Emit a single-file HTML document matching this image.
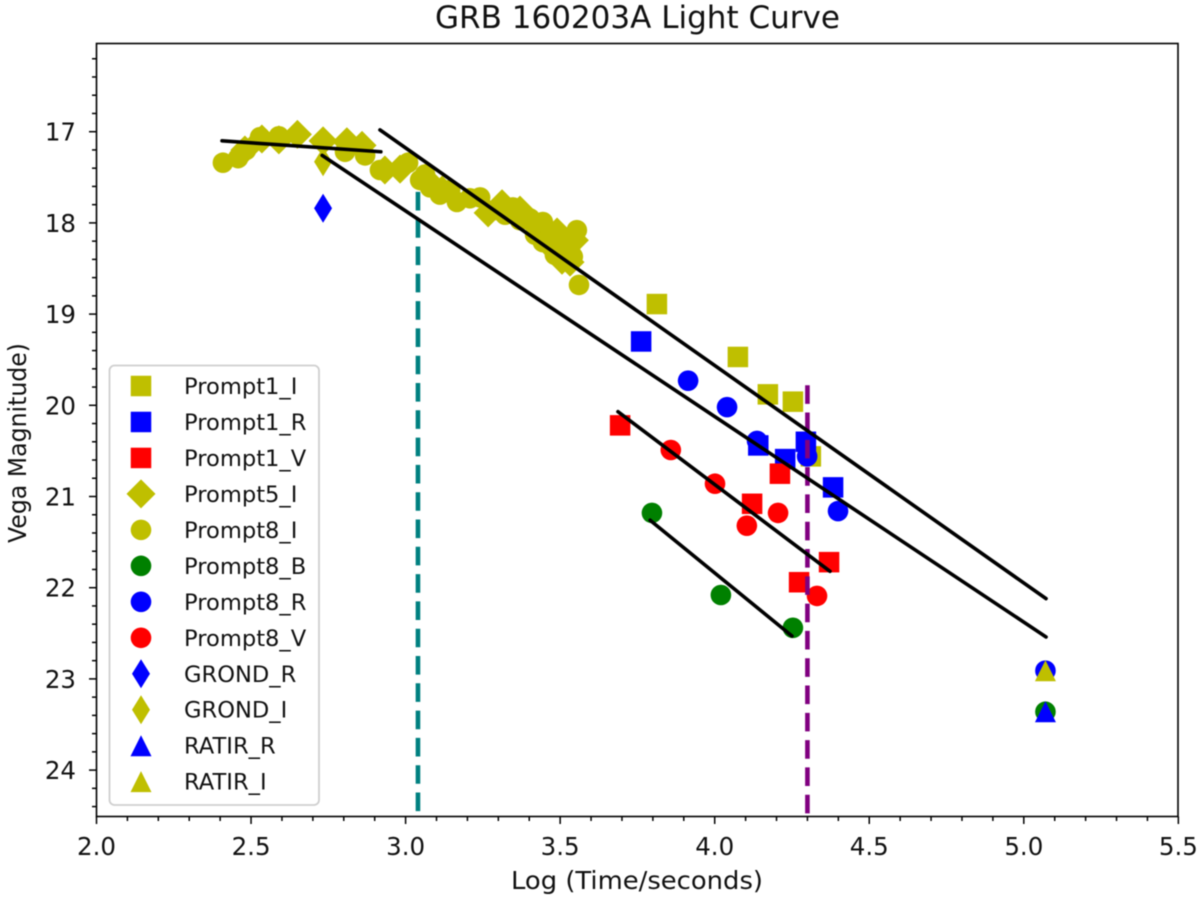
<!DOCTYPE html>
<html>
<head>
<meta charset="utf-8">
<title>GRB 160203A Light Curve</title>
<style>
html,body{margin:0;padding:0;background:#fff;}
svg{display:block;filter:blur(0.45px);}
text{font-family:"DejaVu Sans","Liberation Sans",sans-serif;fill:#111;}
</style>
</head>
<body>
<svg id="chart" xmlns="http://www.w3.org/2000/svg" width="1200" height="902" viewBox="0 0 1200 902"></svg>
<script>
var xTickLabels = ["2.0","2.5","3.0","3.5","4.0","4.5","5.0","5.5"];
var yTickLabels = ["17","18","19","20","21","22","23","24"];

var prompt1IX = [3.813,4.075,4.172,4.253,4.311];
var prompt1IY = [18.89,19.47,19.88,19.96,20.56];
var prompt1RX = [3.762,4.141,4.228,4.295,4.383];
var prompt1RY = [19.30,20.44,20.59,20.40,20.90];
var prompt1VX = [3.694,4.121,4.211,4.273,4.370];
var prompt1VY = [20.22,21.08,20.75,21.94,21.72];
var prompt5IX = [2.480,2.535,2.590,2.650,2.733,2.810,2.859,2.933,2.982,3.063,3.118,3.267,3.312,3.370,3.419,3.474,3.490,3.506,3.532,3.546];
var prompt5IY = [17.20,17.08,17.09,17.03,17.10,17.11,17.15,17.42,17.41,17.51,17.64,17.89,17.79,17.86,18.02,18.27,18.10,18.41,18.43,18.19];
var prompt8IX = [2.409,2.458,2.484,2.529,2.590,2.804,2.869,2.917,3.008,3.047,3.063,3.079,3.111,3.144,3.166,3.208,3.241,3.296,3.322,3.347,3.370,3.402,3.419,3.444,3.444,3.483,3.483,3.532,3.541,3.554,3.561];
var prompt8IY = [17.34,17.29,17.20,17.06,17.05,17.22,17.26,17.42,17.34,17.53,17.47,17.61,17.69,17.64,17.77,17.73,17.72,17.86,17.91,17.83,17.97,17.95,18.13,17.99,18.21,18.19,18.35,18.30,18.37,18.08,18.68];
var prompt8BX = [3.797,4.020,4.253,5.070];
var prompt8BY = [21.18,22.08,22.44,23.36];
var prompt8RX = [3.914,4.040,4.137,4.299,4.399,5.070];
var prompt8RY = [19.73,20.02,20.39,20.56,21.16,22.91];
var prompt8VX = [3.858,4.001,4.104,4.205,4.331];
var prompt8VY = [20.49,20.86,21.32,21.18,22.09];
var grondRX = [2.733];
var grondRY = [17.84];
var grondIX = [2.733];
var grondIY = [17.33];
var ratirRX = [5.070];
var ratirRY = [23.36];
var ratirIX = [5.070];
var ratirIY = [22.91];

var fit1X = [2.406,2.920];
var fit1Y = [17.10,17.22];
var fit2X = [2.917,5.072];
var fit2Y = [16.98,22.12];
var fit3X = [2.730,5.072];
var fit3Y = [17.26,22.54];
var fit4X = [3.687,4.373];
var fit4Y = [20.07,21.82];
var fit5X = [3.791,4.250];
var fit5Y = [21.26,22.53];

var tealLineX = [3.04,3.04];
var tealLineY = [17.66,24.51];
var purpleLineX = [4.3,4.3];
var purpleLineY = [19.78,24.51];

var legendLabels = ["Prompt1_I","Prompt1_R","Prompt1_V","Prompt5_I","Prompt8_I","Prompt8_B","Prompt8_R","Prompt8_V","GROND_R","GROND_I","RATIR_R","RATIR_I"];

var NS = "http://www.w3.org/2000/svg";
var svg = document.getElementById("chart");
var OLIVE = "#bfbf00", BLUE = "#0000ff", RED = "#ff0000", GREEN = "#008000";

function xScale(v){ return 96.5 + (v - 2) * 309.1; }
function yScale(v){ return 131.7 + (v - 17) * 91.2; }

function make(tag, attrs, parent){
  var el = document.createElementNS(NS, tag);
  for (var k in attrs) el.setAttribute(k, attrs[k]);
  (parent || svg).appendChild(el);
  return el;
}
function marker(shape, px, py, color, parent){
  var el;
  if (shape === "square") {
    el = make("rect", {x:px-10.25, y:py-10.25, width:20.5, height:20.5, fill:color}, parent);
  } else if (shape === "circle") {
    el = make("circle", {cx:px, cy:py, r:10.3, fill:color}, parent);
  } else if (shape === "diamond") {
    el = make("polygon", {points:(px-14.5)+","+py+" "+px+","+(py-14.5)+" "+(px+14.5)+","+py+" "+px+","+(py+14.5), fill:color}, parent);
  } else if (shape === "thin") {
    el = make("polygon", {points:(px-9)+","+py+" "+px+","+(py-14.5)+" "+(px+9)+","+py+" "+px+","+(py+14.5), fill:color}, parent);
  } else {
    el = make("polygon", {points:(px-10.5)+","+(py+10.5)+" "+px+","+(py-10.5)+" "+(px+10.5)+","+(py+10.5), fill:color}, parent);
  }
  return el;
}

var plotBg = make("rect", {x:96.5, y:43.5, width:1081.5, height:773, fill:"#fff"});



var seriesList = [
  ["prompt1-i","square",OLIVE,prompt1IX,prompt1IY],
  ["prompt1-r","square",BLUE,prompt1RX,prompt1RY],
  ["prompt1-v","square",RED,prompt1VX,prompt1VY],
  ["prompt5-i","diamond",OLIVE,prompt5IX,prompt5IY],
  ["prompt8-i","circle",OLIVE,prompt8IX,prompt8IY],
  ["prompt8-b","circle",GREEN,prompt8BX,prompt8BY],
  ["prompt8-r","circle",BLUE,prompt8RX,prompt8RY],
  ["prompt8-v","circle",RED,prompt8VX,prompt8VY],
  ["grond-r","thin",BLUE,grondRX,grondRY],
  ["grond-i","thin",OLIVE,grondIX,grondIY],
  ["ratir-r","triangle",BLUE,ratirRX,ratirRY],
  ["ratir-i","triangle",OLIVE,ratirIX,ratirIY]
];
seriesList.forEach(function(s){
  var g = make("g", {});
  
  
  for (var i = 0; i < s[3].length; i++) {
    var m = marker(s[1], xScale(s[3][i]), yScale(s[4][i]), s[2], g);
    
    
  }
});

var dashList = [
  ["teal-dashed-line", tealLineX, tealLineY, "#008080"],
  ["purple-dashed-line", purpleLineX, purpleLineY, "#800080"]
];
dashList.forEach(function(d){
  var l = make("line", {x1:xScale(d[1][0]), y1:yScale(d[2][0]), x2:xScale(d[1][1]), y2:yScale(d[2][1]), stroke:d[3], "stroke-width":4.6, "stroke-dasharray":"18.6 8.7"});
  
  
});

var fitList = [
  ["fit-line-plateau", fit1X, fit1Y],
  ["fit-line-i-band", fit2X, fit2Y],
  ["fit-line-r-band", fit3X, fit3Y],
  ["fit-line-v-band", fit4X, fit4Y],
  ["fit-line-b-band", fit5X, fit5Y]
];
fitList.forEach(function(f){
  var l = make("line", {x1:xScale(f[1][0]), y1:yScale(f[2][0]), x2:xScale(f[1][1]), y2:yScale(f[2][1]), stroke:"#000", "stroke-width":3.6, "stroke-linecap":"round"});
  
  
});

var axisGroup = make("g", {stroke:"#000", "stroke-width":1.5});


var frame = make("rect", {x:96.5, y:43.5, width:1081.5, height:773, fill:"none", "stroke-width":1.6}, axisGroup);



for (var xm = 0; xm <= 35; xm++) {
  var xv = 2 + xm / 10;
  var xMajor = xm % 5 === 0;
  var xt = make("line", {x1:xScale(xv), x2:xScale(xv), y1:816.5, y2:xMajor ? 824 : 821}, axisGroup);
  
  
}
for (var ym = 1; ym <= 42; ym++) {
  var yv = 16 + ym / 5;
  if (yScale(yv) > 816.5) break;
  var yMajor = ym % 5 === 0;
  var yt = make("line", {x1:96.5, x2:yMajor ? 89 : 92, y1:yScale(yv), y2:yScale(yv)}, axisGroup);
  
  
}

xTickLabels.forEach(function(t){
  var e = make("text", {x:xScale(parseFloat(t)), y:855, "text-anchor":"middle", "font-size":24.5});
  e.textContent = t;
  
  
});
yTickLabels.forEach(function(t){
  var e = make("text", {x:76, y:yScale(parseFloat(t)) + 9, "text-anchor":"end", "font-size":24.5});
  e.textContent = t;
  
  
});

var title = make("text", {x:637.5, y:28, "text-anchor":"middle", "font-size":31, textLength:405, lengthAdjust:"spacingAndGlyphs"});
title.textContent = "GRB 160203A Light Curve";



var xTitle = make("text", {x:637, y:889, "text-anchor":"middle", "font-size":24.5, textLength:252, lengthAdjust:"spacingAndGlyphs"});
xTitle.textContent = "Log (Time/seconds)";



var yTitle = make("text", {x:0, y:0, "text-anchor":"middle", "font-size":24.5, transform:"translate(26,443) rotate(-90)", textLength:200, lengthAdjust:"spacingAndGlyphs"});
yTitle.textContent = "Vega Magnitude)";



var legend = make("g", {});


var legendBox = make("rect", {x:109.5, y:365.5, width:209.5, height:439.5, rx:5, ry:5, fill:"#fff", "fill-opacity":0.85, stroke:"#cfcfcf", "stroke-width":1.8}, legend);


legendLabels.forEach(function(name, i){
  var rowY = 386 + i * 35.97;
  var s = seriesList[i];
  var mk = marker(s[1], 141, rowY, s[2], legend);
  
  
  var tx = make("text", {x:184, y:rowY + 8, "font-size":22.6}, legend);
  tx.textContent = name;
  
  
});
</script>
</body>
</html>
